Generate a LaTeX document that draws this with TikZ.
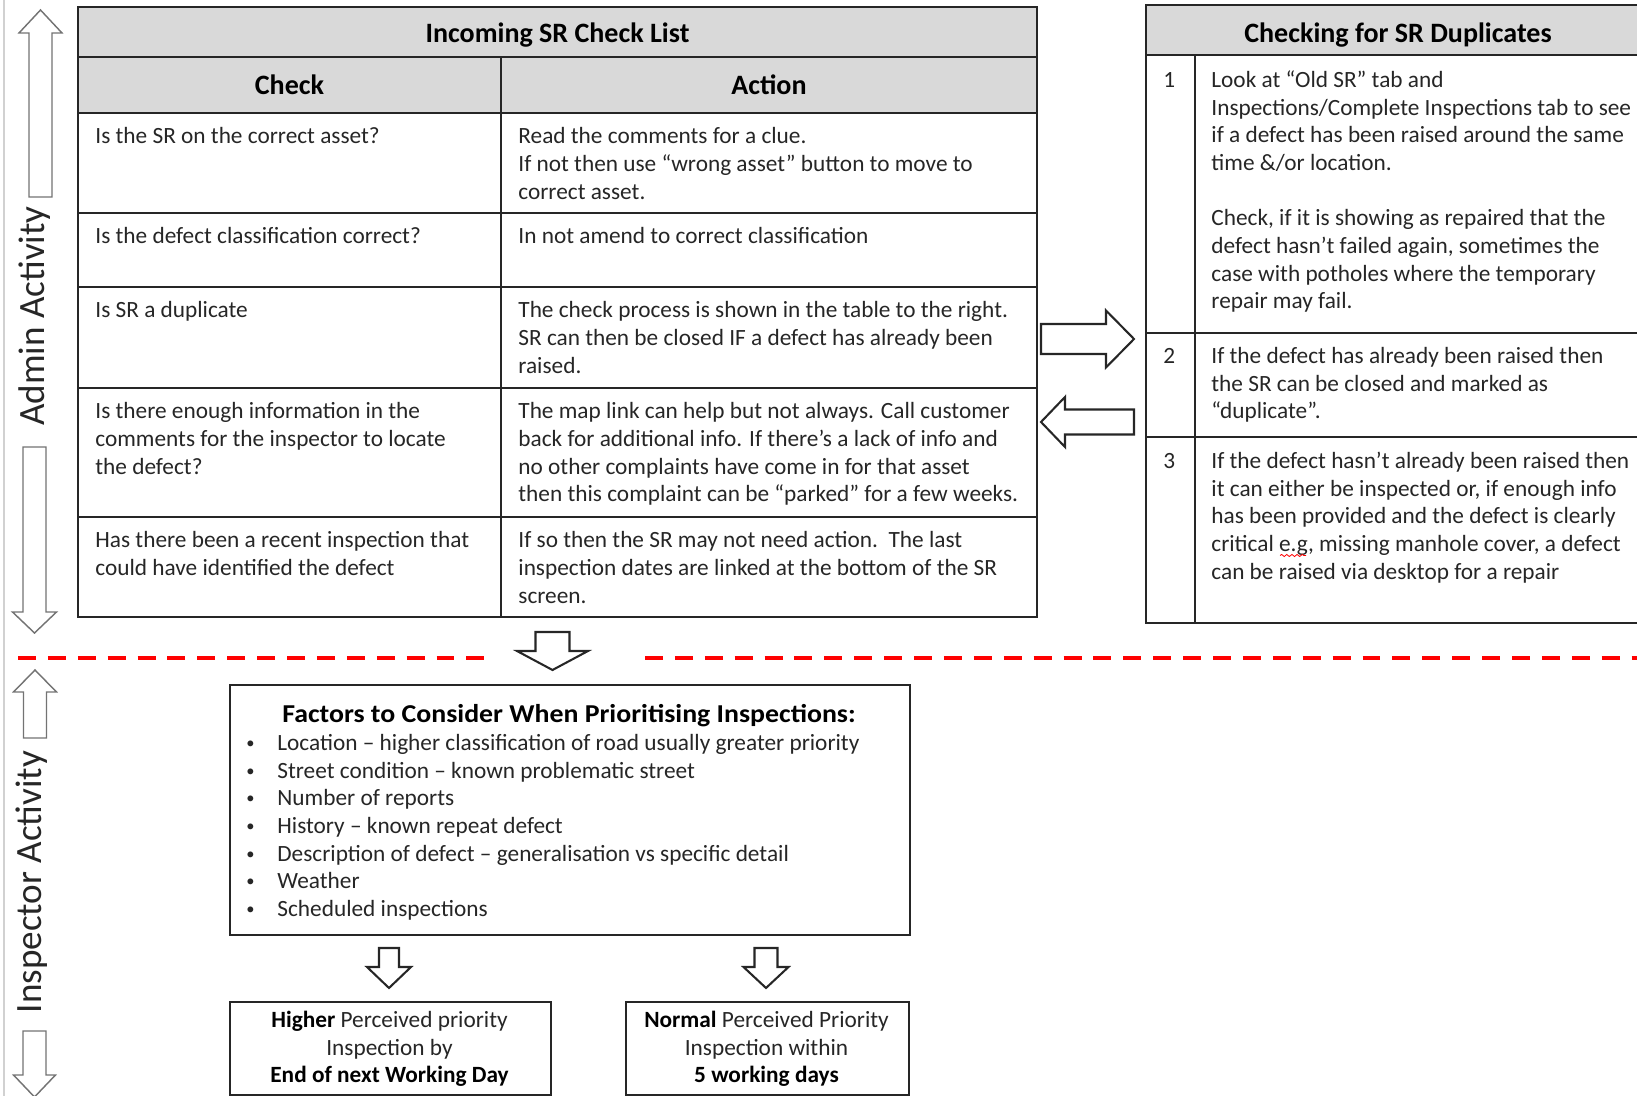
\documentclass[tikz,border=0pt]{standalone}
\usepackage{fontspec}
\setmainfont{Carlito}
\newfontfamily\widefamily{Carlito}[FakeStretch=1.08]
\usetikzlibrary{decorations.pathmorphing}
\newcommand{\bodyfont}{\fontsize{11.3}{13.43}\selectfont}
\newcommand{\headfont}{\fontsize{13.6}{16.3}\selectfont\bfseries}
\newcommand{\sidefont}{\fontsize{18}{21.6}\selectfont}
\newcommand{\bulletmark}{\raisebox{0.9pt}{\fontsize{8}{9}\selectfont •}}
\begin{document}
\begin{tikzpicture}[x=0.485pt,y=-0.485pt,
  grid/.style={draw=black!85, line width=0.9pt},
  headfill/.style={fill=black!15},
  bodytext/.style={inner sep=0pt, anchor=north west, align=left, text=black!85, font=\bodyfont},
  centretext/.style={inner sep=0pt, anchor=north, align=center, text=black!85, font=\bodyfont},
  headtext/.style={inner sep=0pt, anchor=base, text=black, font=\headfont},
  sidelabel/.style={inner sep=0pt, rotate=90, text=black!85, font=\sidefont},
  pxbox/.style 2 args={draw=black!85, line width=0.9pt, fill=white, inner sep=0pt, anchor=north west,
    minimum width=#1*0.485pt, minimum height=#2*0.485pt},
  sidearrow/.style={draw=black!55, fill=white, line width=0.7pt},
  flowarrow/.style={draw=black!85, fill=white, line width=1pt},
  reddash/.style={draw=red, line width=1.9pt, dash pattern=on 8.7pt off 5.8pt},
  spellmark/.style={draw=red, line width=0.4pt, decorate, decoration={snake, amplitude=0.5pt, segment length=2.5pt}},
  % block arrow pointing down, tip at the origin:
  % #1 shaft half width, #2 head half width, #3 total length, #4 head length
  pics/blockarrow/.style n args={4}{code={
    \path[pic actions] (-#1,-#3) -- (#1,-#3) -- (#1,-#4) -- (#2,-#4) -- (0,0)
      -- (-#2,-#4) -- (-#1,-#4) -- cycle;
  }}
]
\useasboundingbox (0,0) rectangle (1637,1096);
\clip (0,0) rectangle (1637,1096);

% page edge
\draw[black!18, line width=0.5pt] (4,0) -- (4,1096);

% ---------------- Incoming SR check list ----------------
\fill[headfill] (78,7) rectangle (1037,113);
\draw[grid] (78,7) rectangle (1037,617);
\foreach \yy in {57,113,213,287,388,517} \draw[grid] (78,\yy) -- (1037,\yy);
\draw[grid] (501,57) -- (501,617);

\node[headtext] (cltitle) at (557.5,42.5) {Incoming SR Check List};
\node[headtext] (clcheck) at (289.5,95) {Check};
\node[headtext] (claction) at (769,95) {Action};

\node[bodytext] (chk1) at (95,124) {\strut Is the SR on the correct asset?};
\node[bodytext] (act1) at (518,124) {\strut Read the comments for a clue.\\If not then use “wrong asset” button to move to\\correct asset.};
\node[bodytext] (chk2) at (95,224) {\strut Is the defect classification correct?};
\node[bodytext] (act2) at (518,224) {\strut In not amend to correct classification};
\node[bodytext] (chk3) at (95,298) {\strut Is SR a duplicate};
\node[bodytext] (act3) at (518,298) {\strut The check process is shown in the table to the right.\\SR can then be closed IF a defect has already been\\raised.};
\node[bodytext] (chk4) at (95,399) {\strut Is there enough information in the\\comments for the inspector to locate\\the defect?};
\node[bodytext] (act4) at (518,399) {\strut The map link can help but not always. Call customer\\back for additional info. If there’s a lack of info and\\no other complaints have come in for that asset\\then this complaint can be “parked” for a few weeks.};
\node[bodytext] (chk5) at (95,528) {\strut Has there been a recent inspection that\\could have identified the defect};
\node[bodytext] (act5) at (518,528) {\strut If so then the SR may not need action.\ \ The last\\inspection dates are linked at the bottom of the SR\\screen.};

% ---------------- Checking for SR duplicates ----------------
\fill[headfill] (1146,5) rectangle (1660,55);
\draw[grid] (1660,5) -- (1146,5) -- (1146,623) -- (1660,623);
\foreach \yy in {55,333,437} \draw[grid] (1146,\yy) -- (1660,\yy);
\draw[grid] (1195,55) -- (1195,623);

\node[headtext] (duptitle) at (1398,42.5) {Checking for SR Duplicates};

\node[bodytext] (num1) at (1163,67.6) {\strut 1};
\node[bodytext] (dup1) at (1211,67.6) {\strut Look at “Old SR” tab and\\Inspections/Complete Inspections tab to see\\if a defect has been raised around the same\\time \&/or location.\\[13.43pt]Check, if it is showing as repaired that the\\defect hasn’t failed again, sometimes the\\case with potholes where the temporary\\repair may fail.};
\node[bodytext] (num2) at (1163,343.6) {\strut 2};
\node[bodytext] (dup2) at (1211,343.6) {\strut If the defect has already been raised then\\the SR can be closed and marked as\\“duplicate”.};
\node[bodytext] (num3) at (1163,448.6) {\strut 3};
\node[bodytext] (dup3) at (1211,448.6) {\strut If the defect hasn’t already been raised then\\it can either be inspected or, if enough info\\has been provided and the defect is clearly\\critical e.g, missing manhole cover, a defect\\can be raised via desktop for a repair};
% spelling underline beneath "e.g"
\coordinate (egstart) at (1280,555.5);
\coordinate (egend) at (1306,555.5);
\draw[spellmark] (egstart) -- (egend);

% arrows between the two tables
\pic[flowarrow, rotate=90] at (1134,339) {blockarrow={15}{28.5}{93}{28}};
\pic[flowarrow, rotate=-90] at (1041,422) {blockarrow={12.5}{25}{93}{24}};

% ---------------- divider between admin and inspector work ----------------
\draw[reddash] (18,658) -- (491,658);
\draw[reddash] (645,658) -- (1640,658);
\pic[flowarrow] at (552.5,670) {blockarrow={17}{35.5}{38}{19}};

% ---------------- inspection priorities ----------------
\node[pxbox={680}{250}] (factors) at (229,684) {};
\node[headtext, font=\widefamily\fontsize{12.5}{15}\selectfont\bfseries] (factorstitle) at (569,723)
  {Factors to Consider When Prioritising Inspections:};
\node[bodytext] (bullets) at (246,730.6) {\strut\bulletmark\\\bulletmark\\\bulletmark\\\bulletmark\\\bulletmark\\\bulletmark\\\bulletmark};
\node[bodytext] (factorlist) at (277,730.6) {\strut Location – higher classification of road usually greater priority\\Street condition – known problematic street\\Number of reports\\History – known repeat defect\\Description of defect – generalisation vs specific detail\\Weather\\Scheduled inspections};

\pic[flowarrow] at (389,988) {blockarrow={10}{22}{40}{21}};
\pic[flowarrow] at (766,988) {blockarrow={11.5}{22.5}{40}{21}};

\node[pxbox={321}{93}] (higher) at (229,1001) {};
\node[centretext] (highertext) at (389.5,1007.6) {\strut\textbf{\color{black}Higher} Perceived priority\\Inspection by\\\textbf{\color{black}End of next Working Day}};
\node[pxbox={283}{93}] (normal) at (625,1001) {};
\node[centretext] (normaltext) at (766.5,1007.6) {\strut\textbf{\color{black}Normal} Perceived Priority\\Inspection within\\\textbf{\color{black}5 working days}};

% ---------------- activity labels down the left side ----------------
\pic[sidearrow, rotate=180] at (40.5,10) {blockarrow={11.5}{21.5}{187}{23}};
\node[sidelabel] (adminlabel) at (35,316) {Admin Activity};
\pic[sidearrow] at (34.5,633) {blockarrow={11.5}{22}{186}{21}};

\pic[sidearrow, rotate=180] at (35,670) {blockarrow={11.5}{21.5}{68}{22}};
\node[sidelabel] (inspectorlabel) at (32,882) {Inspector Activity};
\pic[sidearrow] at (34.5,1097) {blockarrow={11.5}{21}{66}{22}};
\end{tikzpicture}
\end{document}
